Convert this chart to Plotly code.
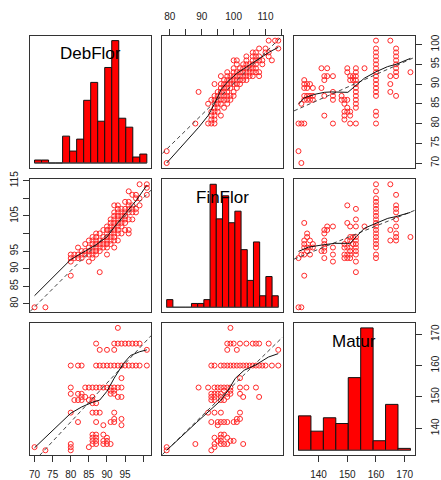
import plotly.graph_objects as go

# ------------------------------------------------------------------ data
var_names = ["DebFlor", "FinFlor", "Matur"]
deb_range = [68.76, 102.24]
fin_range = [77.6, 115.4]
mat_range = [131.44, 173.56]

# histogram bin counts
deb_hist_counts = [1, 1, 0, 0, 9, 4, 8, 21, 27, 14, 32, 41, 15, 12, 2, 3]
fin_hist_counts = [2, 0, 0, 0, 1, 1, 2, 32, 23, 29, 22, 25, 15, 7, 17, 3, 8, 3]
mat_hist_counts = [18, 10, 17, 14, 38, 64, 5, 24, 1]

# distinct observed (DebFlor, FinFlor) points
deb_fin_pairs = [
    (70, 79), (73, 79),
    (80, 88), (80, 92), (80, 93), (80, 94),
    (81, 93), (81, 94),
    (82, 93), (82, 94), (82, 96),
    (83, 93), (83, 94), (83, 95),
    (84, 94), (84, 95), (84, 97),
    (85, 92), (85, 94), (85, 95), (85, 96), (85, 98),
    (86, 93), (86, 94), (86, 95), (86, 96), (86, 97), (86, 98), (86, 99),
    (87, 94), (87, 95), (87, 96), (87, 97), (87, 98), (87, 99), (87, 100),
    (88, 89), (88, 95), (88, 96), (88, 97), (88, 98), (88, 100),
    (89, 96), (89, 97), (89, 98), (89, 99), (89, 101),
    (90, 94), (90, 96), (90, 97), (90, 98), (90, 99), (90, 100), (90, 101), (90, 102),
    (91, 97), (91, 98), (91, 99), (91, 100), (91, 101), (91, 102), (91, 103), (91, 104),
    (92, 96), (92, 98), (92, 99), (92, 100), (92, 101), (92, 102), (92, 103), (92, 104),
    (92, 105), (92, 106), (92, 108),
    (93, 98), (93, 100), (93, 101), (93, 102), (93, 103), (93, 104), (93, 105), (93, 106),
    (93, 107), (93, 108),
    (94, 100), (94, 102), (94, 103), (94, 104), (94, 105), (94, 106), (94, 107),
    (95, 101), (95, 103), (95, 104), (95, 105), (95, 106), (95, 107), (95, 109),
    (96, 100), (96, 101), (96, 104), (96, 106), (96, 107), (96, 108), (96, 109), (96, 112),
    (97, 104), (97, 106), (97, 107), (97, 108), (97, 111),
    (98, 106), (98, 107), (98, 110), (98, 111),
    (99, 108), (99, 110), (99, 114),
    (101, 111), (101, 113), (101, 114),
]

# distinct observed (DebFlor, Matur) points
deb_mat_pairs = [
    (93, 172),
    (87, 167), (92, 167), (93, 167), (94, 167), (95, 167), (96, 167), (97, 167), (98, 167), (99, 167),
    (88, 165), (90, 165), (92, 165), (101, 165),
    (80, 160), (82, 160), (83, 160), (87, 160), (88, 160), (89, 160), (90, 160), (91, 160),
    (92, 160), (93, 160), (94, 160), (95, 160), (96, 160), (97, 160), (98, 160), (99, 160),
    (101, 160),
    (94, 156),
    (80, 153), (84, 153), (85, 153), (86, 153), (87, 153), (88, 153), (89, 153), (90, 153),
    (91, 153), (92, 153), (93, 153), (94, 153),
    (91, 152), (92, 152),
    (80, 151), (82, 151), (83, 151), (91, 151), (92, 151),
    (83, 150), (84, 150), (86, 150), (93, 150), (94, 150),
    (81, 149), (82, 149), (83, 149), (85, 149), (86, 149),
    (86, 148), (87, 148),
    (80, 145), (86, 145), (87, 145), (88, 145), (92, 145),
    (92, 143), (94, 143),
    (82, 142), (87, 142), (91, 142), (92, 142),
    (89, 141), (94, 141),
    (86, 138), (87, 138), (89, 138),
    (86, 137), (87, 137), (90, 137),
    (86, 136), (87, 136), (89, 136), (90, 136),
    (80, 135), (86, 135), (87, 135), (89, 135), (90, 135), (91, 135),
    (70, 134), (80, 134), (85, 134),
    (73, 133), (80, 133),
]

# distinct observed (FinFlor, Matur) points
fin_mat_pairs = [
    (99, 172),
    (98, 167), (99, 167), (100, 167), (102, 167), (104, 167), (106, 167), (107, 167), (108, 167), (111, 167),
    (98, 165), (101, 165), (114, 165),
    (93, 160), (94, 160), (96, 160), (97, 160), (98, 160), (99, 160), (100, 160), (101, 160),
    (102, 160), (103, 160), (104, 160), (105, 160), (106, 160), (107, 160), (108, 160),
    (109, 160), (110, 160), (112, 160), (114, 160),
    (102, 156),
    (89, 153), (92, 153), (94, 153), (95, 153), (96, 153), (97, 153), (98, 153), (99, 153),
    (102, 153), (104, 153), (107, 153),
    (97, 152), (99, 152),
    (93, 151), (94, 151), (95, 151), (96, 151), (98, 151), (99, 151), (102, 151),
    (93, 150), (94, 150), (96, 150), (98, 150), (103, 150), (108, 150),
    (93, 149), (94, 149), (96, 149), (97, 149),
    (92, 145), (94, 145), (96, 145), (102, 145),
    (101, 143), (102, 143),
    (93, 142), (95, 142), (96, 142), (97, 142), (98, 142), (100, 142), (101, 142),
    (95, 141),
    (96, 138), (97, 138),
    (94, 137), (96, 137), (98, 137),
    (95, 136), (96, 136), (99, 136), (100, 136),
    (88, 135), (94, 135), (96, 135), (97, 135), (98, 135), (103, 135),
    (79, 134), (94, 134),
    (79, 133), (93, 133),
]

# linear-fit (dashed) lines, end values
reg_deb_on_fin = ([77.6, 115.4], [72.4, 102.3])
reg_fin_on_deb = ([68.76, 102.24], [77.8, 112.4])
reg_deb_on_mat = ([131.44, 173.56], [83.2, 96.8])
reg_mat_on_deb = ([68.76, 102.24], [128.1, 169.6])
reg_fin_on_mat = ([131.44, 173.56], [92.7, 106.6])
reg_mat_on_fin = ([77.6, 115.4], [131.6, 169.1])

# smoother (solid) lines
smooth_deb_on_fin = ([79, 84, 89, 92, 94, 96, 98, 101, 104, 108, 111, 114],
                     [70, 74.5, 79, 82, 85, 88.5, 90.5, 92.7, 94.3, 96.5, 98, 99.3])
smooth_fin_on_deb = ([70, 75, 80, 84, 87, 90, 92, 95, 98, 101],
                     [82.3, 87.6, 92.6, 95, 96.8, 99, 101.8, 105.6, 109.3, 113.7])
smooth_deb_on_mat = ([133, 135, 138.7, 142, 144.4, 148, 150.2, 152.6, 156, 160, 164, 167, 172],
                     [84.9, 86.5, 87.4, 87.9, 88, 87.9, 87.9, 89.4, 91.5, 93.1, 94.4, 95, 96.5])
smooth_mat_on_deb = ([70, 75, 80, 83, 86, 88, 90, 92, 94.5, 96.5, 99, 101],
                     [133.8, 139.3, 144.8, 146.8, 148.3, 149, 151.8, 156, 160.6, 163.2, 164.4, 165])
smooth_fin_on_mat = ([133, 136.4, 141, 145.6, 150.2, 150.8, 153.1, 156, 160, 164.1, 166.9, 172],
                     [94.9, 96.1, 96.7, 97.2, 97.2, 97, 99.1, 101.5, 102.9, 104.3, 104.8, 106])
smooth_mat_on_fin = ([79, 83.3, 88.4, 93.5, 96.1, 98.7, 100.5, 103.3, 106.8, 110.9, 114],
                     [133, 137.2, 141.9, 146.6, 149, 152.8, 155.9, 158.5, 160.1, 162.7, 163.8])

# tick labels
deb_ticks = [70, 75, 80, 85, 90, 95, 100]
deb_bottom_text = ["70", "75", "80", "85", "90", "95", ""]
deb_right_text = ["70", "75", "80", "85", "90", "95", "100"]
fin_ticks = [80, 85, 90, 95, 100, 105, 110, 115]
fin_top_text = ["80", "", "90", "", "100", "", "110", ""]
fin_left_text = ["80", "85", "90", "95", "", "105", "", "115"]
mat_ticks = [140, 150, 160, 170]
mat_text = ["140", "150", "160", "170"]

# ------------------------------------------------------------------ layout
W, H = 441, 480
col_px = [(29.3, 151.7), (162.7, 284.3), (295.7, 417.7)]
row_px = [(28.3, 163.3), (175.0, 310.7), (321.7, 456.7)]
ranges = [deb_range, fin_range, mat_range]


def xdom(c):
    return [col_px[c][0] / W, col_px[c][1] / W]


def ydom(r):
    return [1 - row_px[r][1] / H, 1 - row_px[r][0] / H]


def sfx(k):
    return "" if k == 1 else str(k)


FONT = "Liberation Sans, Arial, Helvetica, sans-serif"
BOX = "#333333"
layout = dict(
    width=W, height=H, margin=dict(l=0, r=0, t=0, b=0),
    paper_bgcolor="white", plot_bgcolor="rgba(0,0,0,0)",
    showlegend=False, hovermode=False,
    font=dict(family=FONT, size=10, color="#222222"),
)

base_axis = dict(showline=True, mirror=True, linecolor=BOX, linewidth=1,
                 showgrid=False, zeroline=False, ticks="", showticklabels=False,
                 fixedrange=True)
tick_on = dict(ticks="outside", ticklen=6, tickwidth=1, tickcolor=BOX,
               showticklabels=True, tickfont=dict(family=FONT, size=10, color="#222222"))

for r in range(3):
    for c in range(3):
        k = r * 3 + c + 1
        layout["xaxis" + sfx(k)] = dict(base_axis, domain=xdom(c), range=ranges[c],
                                        anchor="y" + sfx(k))
        layout["yaxis" + sfx(k)] = dict(base_axis, domain=ydom(r), range=ranges[r],
                                        anchor="x" + sfx(k))

layout["xaxis2"].update(tick_on, side="top", tickmode="array",
                        tickvals=fin_ticks, ticktext=fin_top_text, ticklabelstandoff=5)
layout["yaxis3"].update(tick_on, side="right", tickmode="array",
                        tickvals=deb_ticks, ticktext=deb_right_text, tickangle=-90,
                        ticklabelstandoff=5)
layout["yaxis4"].update(tick_on, side="left", tickmode="array",
                        tickvals=fin_ticks, ticktext=fin_left_text, tickangle=-90,
                        ticklabelstandoff=1)
layout["xaxis7"].update(tick_on, side="bottom", tickmode="array",
                        tickvals=deb_ticks, ticktext=deb_bottom_text, ticklabelstandoff=4)
layout["xaxis9"].update(tick_on, side="bottom", tickmode="array",
                        tickvals=mat_ticks, ticktext=mat_text, ticklabelstandoff=4)
layout["yaxis9"].update(tick_on, side="right", tickmode="array",
                        tickvals=mat_ticks, ticktext=mat_text, tickangle=-90,
                        ticklabelstandoff=5)

fig = go.Figure()

# ---- scatter panels
pair_data = {
    ("deb", "fin"): deb_fin_pairs,
    ("deb", "mat"): deb_mat_pairs,
    ("fin", "mat"): fin_mat_pairs,
}
keys = ["deb", "fin", "mat"]
reg_lines = {
    (0, 1): reg_deb_on_fin, (1, 0): reg_fin_on_deb,
    (0, 2): reg_deb_on_mat, (2, 0): reg_mat_on_deb,
    (1, 2): reg_fin_on_mat, (2, 1): reg_mat_on_fin,
}
smooth_lines = {
    (0, 1): smooth_deb_on_fin, (1, 0): smooth_fin_on_deb,
    (0, 2): smooth_deb_on_mat, (2, 0): smooth_mat_on_deb,
    (1, 2): smooth_fin_on_mat, (2, 1): smooth_mat_on_fin,
}

for r in range(3):
    for c in range(3):
        k = r * 3 + c + 1
        xa, ya = "x" + sfx(k), "y" + sfx(k)
        if r == c:
            fig.add_trace(go.Scatter(x=[], y=[], xaxis=xa, yaxis=ya, mode="markers"))
            continue
        a, b = min(r, c), max(r, c)
        pts = pair_data[(keys[a], keys[b])]
        first = [p[0] for p in pts]
        second = [p[1] for p in pts]
        # x is variable c, y is variable r
        xs, ys = (first, second) if c == a else (second, first)
        fig.add_trace(go.Scatter(
            x=xs, y=ys, xaxis=xa, yaxis=ya, mode="markers",
            marker=dict(symbol="circle-open", size=5, color="#ff2a2a",
                        line=dict(width=1, color="#ff2a2a"))))
        rx, ry = reg_lines[(r, c)]
        fig.add_trace(go.Scatter(x=rx, y=ry, xaxis=xa, yaxis=ya, mode="lines",
                                 line=dict(color="#444444", width=1, dash="4px,3px")))
        sx, sy = smooth_lines[(r, c)]
        fig.add_trace(go.Scatter(x=sx, y=sy, xaxis=xa, yaxis=ya, mode="lines",
                                 line=dict(color="#111111", width=1)))

# ---- diagonal histograms on their own (hidden) overlay axes
hist_counts = [deb_hist_counts, fin_hist_counts, mat_hist_counts]
for d in range(3):
    k = d * 3 + d + 1
    hk = 10 + d
    counts = hist_counts[d]
    n = len(counts)
    top = max(counts)
    layout["xaxis" + str(hk)] = dict(overlaying="x" + sfx(k), anchor="y" + str(hk),
                                     range=[-0.04 * n, 1.04 * n], visible=False,
                                     fixedrange=True)
    layout["yaxis" + str(hk)] = dict(overlaying="y" + sfx(k), anchor="x" + str(hk),
                                     range=[-0.04 * top, 1.04 * top], visible=False,
                                     fixedrange=True)
    fig.add_trace(go.Scatter(x=[0, n], y=[0, 0], mode="lines",
                             xaxis="x" + str(hk), yaxis="y" + str(hk),
                             line=dict(color="#555555", width=1)))
    fig.add_trace(go.Bar(x=[i + 0.5 for i in range(n)], y=counts, width=1,
                         xaxis="x" + str(hk), yaxis="y" + str(hk),
                         marker=dict(color="#ff0000", line=dict(color="#111111", width=1))))

# ---- variable names on the diagonal
annotations = []
for d in range(3):
    x0, x1 = col_px[d]
    y0, y1 = row_px[d]
    ylab = y1 - 0.8333 * (y1 - y0) - 4
    annotations.append(dict(text=var_names[d], xref="paper", yref="paper",
                            x=(x0 + x1) / 2 / W, y=1 - ylab / H,
                            xanchor="center", yanchor="middle", showarrow=False,
                            font=dict(family=FONT, size=17, color="black")))
layout["annotations"] = annotations

fig.update_layout(**layout)
fig.write_html("out.html")
